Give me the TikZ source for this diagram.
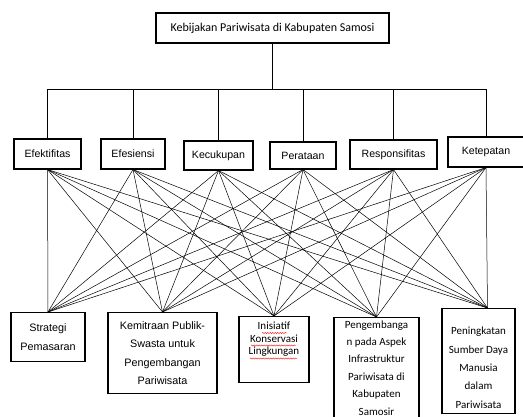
\documentclass[tikz,border=0pt]{standalone}
\usepackage{fontspec}
\setmainfont{Liberation Sans}
\newfontfamily\calibri{Carlito}
\usetikzlibrary{decorations.pathmorphing}

\begin{document}
\begin{tikzpicture} [
    x=1pt, y=-1pt,
    block/.style    = { rectangle, draw, line width=1.1pt, text centered,
                        inner sep=2pt, font=\fontsize{10.6}{13}\selectfont },
    leaf/.style     = { block, align=center, anchor=north,
                        font=\fontsize{10.8}{18.3}\selectfont },
    line/.style     = { draw, line width=0.5pt },
    tree/.style     = { draw, line width=1pt },
    squiggle/.style = { draw=red, line width=0.4pt, decorate,
                        decoration={snake, amplitude=0.6pt, segment length=2.5pt} },
  ]

  \clip (0,0) rectangle (523,417);

  % Define nodes
  \node[block, minimum width=233pt, minimum height=30pt,
        font=\calibri\fontsize{12}{14}\selectfont] (kebijakan) at (272.5,28)
        {Kebijakan Pariwisata di Kabupaten Samosi};

  \node[block, minimum width=67pt, minimum height=30pt] (eff) at (47.5,154) {Efektifitas};
  \node[block, minimum width=64pt, minimum height=30pt] (efe) at (133,154) {Efesiensi};
  \node[block, minimum width=69pt, minimum height=29pt] (kec) at (218.5,155.5) {Kecukupan};
  \node[block, minimum width=66pt, minimum height=27pt] (per) at (303,155.5) {Perataan};
  \node[block, minimum width=87pt, minimum height=29pt] (res) at (393.5,154.5) {Responsifitas};
  \node[block, minimum width=76pt, minimum height=30pt] (ket) at (486,152) {Ketepatan};

  \node[leaf, minimum width=74pt, minimum height=49pt] (str) at (48,312)
        {Strategi\\Pemasaran};
  \node[leaf, minimum width=109pt, minimum height=81pt] (kem) at (162.5,312)
        {Kemitraan Publik-\\Swasta untuk\\Pengembangan\\Pariwisata};
  \node[leaf, minimum width=70pt, minimum height=66pt, text height=36pt, text depth=26pt,
        font=\calibri\fontsize{11}{12.5}\selectfont] (ini) at (274,316)
        {Inisiatif\\Konservasi\\Lingkungan};
  \node[leaf, minimum width=85pt, text height=95.5pt, text depth=8pt,
        font=\calibri\fontsize{11}{17.4}\selectfont] (pen) at (376.5,317)
        {Pengembanga\\n pada Aspek\\Infrastruktur\\Pariwisata di\\Kabupaten\\Samosir};
  \node[leaf, minimum width=73pt, minimum height=105pt, text height=97pt, text depth=3pt,
        font=\calibri\fontsize{11}{18.3}\selectfont] (pei) at (478.5,308)
        {Peningkatan\\Sumber Daya\\Manusia\\dalam\\Pariwisata};
  \coordinate (peitop) at ([xshift=9pt]pei.north);

  % spell-check marks under the conservation box
  \path [squiggle] ([shift={(-12,17)}]ini.north) -- ([shift={(13,17)}]ini.north);
  \path [squiggle] ([shift={(-23,29.5)}]ini.north) -- ([shift={(22,29.5)}]ini.north);
  \path [squiggle] ([shift={(-24,42.5)}]ini.north) -- ([shift={(23,42.5)}]ini.north);

  % connect the nodes
  \path [tree] (kebijakan.south) -- ++(0,46) coordinate (bus);
  \foreach \a in {eff,efe,kec,per,res,ket}
    \path [tree] (bus) -| (\a.north);

  \foreach \a in {eff,efe,kec,per,res,ket}
    \foreach \b in {str.north,kem.north,ini.north,pen.north,peitop}
      \path [line] (\a.south) -- (\b);
\end{tikzpicture}
\end{document}
